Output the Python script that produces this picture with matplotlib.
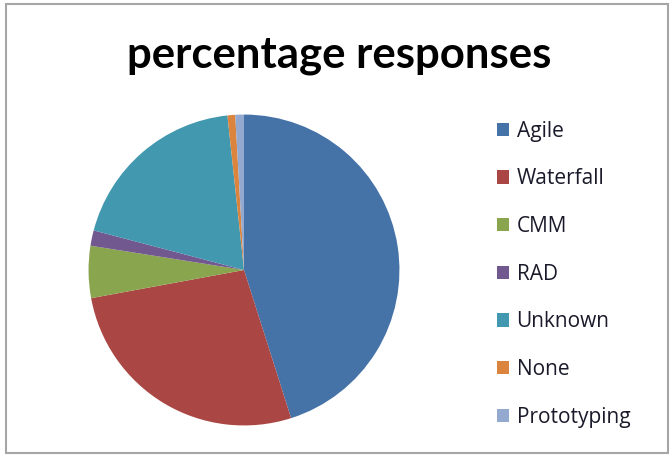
import matplotlib
matplotlib.use("Agg")
import matplotlib.pyplot as plt
from matplotlib.patches import Rectangle, Patch

# Datos (porcentajes)
labels = ['Agile', 'Waterfall', 'CMM', 'RAD', 'Unknown', 'None', 'Prototyping']
values = [45.1, 27.0, 5.4, 1.6, 19.2, 0.8, 0.9]
colors = ['#4572A7', '#AA4643', '#89A54E', '#71588F', '#4198AF', '#DB843D', '#93A9CF']

W, H = 672, 457
fig = plt.figure(figsize=(W / 100, H / 100), dpi=100)

# Marco gris del gráfico
fig.patches.append(Rectangle((6 / W, 1 - 453 / H), 662 / W, 449 / H, transform=fig.transFigure,
                             fill=False, edgecolor='#a6a6a6', linewidth=1.5))

# Título
fig.text(339 / W, 1 - 55 / H, 'percentage responses', ha='center', va='center',
         fontsize=31.5, fontweight='bold', family='Lato', color='black')

# Pastel: centro (244, 270), radio 157 px
cx, cy, r = 244, 270, 157
ax = fig.add_axes([(cx - r) / W, (H - cy - r) / H, 2 * r / W, 2 * r / H])
ax.pie(values, colors=colors, startangle=90, counterclock=False, radius=1,
       wedgeprops=dict(linewidth=0))
ax.set_xlim(-1.01, 1.01)
ax.set_ylim(-1.01, 1.01)
ax.set_aspect('auto')
ax.axis('off')

# Leyenda
handles = [Patch(facecolor=c, edgecolor='none') for c in colors]
fig.legend(handles, labels, loc='upper left', bbox_to_anchor=(478 / W, 1 - 102 / H),
           frameon=False, labelspacing=1.28, handlelength=0.6,
           handleheight=0.6, handletextpad=0.35, labelcolor='#1a1a2a',
           prop={'family': 'Open Sans', 'size': 15})

fig.savefig('out.png', dpi=100)
